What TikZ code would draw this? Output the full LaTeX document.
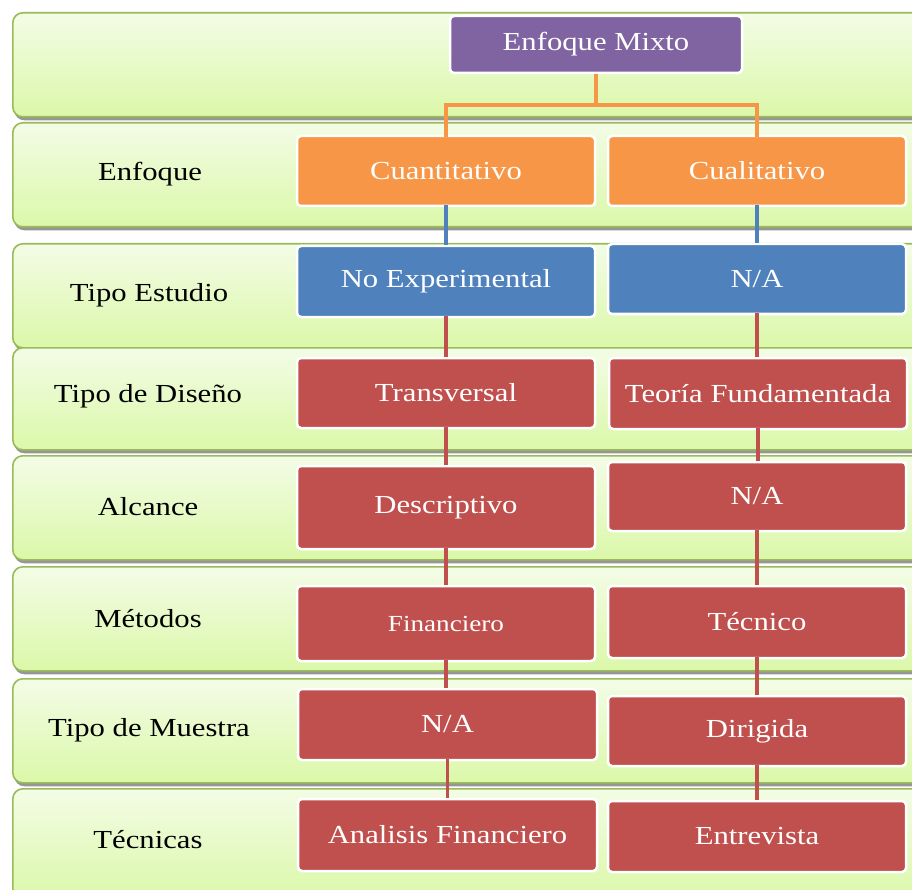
\documentclass[tikz,border=0pt]{standalone}
\usepackage{fontspec}
\setmainfont{Liberation Serif}[FakeStretch=1.18]
\usetikzlibrary{shadows}
\definecolor{bandline}{HTML}{9BBB59}
\definecolor{bandtop}{HTML}{F3FCE6}
\definecolor{bandbot}{HTML}{DBF8A9}
\definecolor{cpurple}{HTML}{8064A2}
\definecolor{corange}{HTML}{F79646}
\definecolor{cblue}{HTML}{4F81BD}
\definecolor{cred}{HTML}{C0504D}
\tikzset{
  band/.style={draw=bandline, line width=1.6pt, rounded corners=10pt,
    top color=bandtop, bottom color=bandbot, anchor=north west,
    minimum width=940pt, inner sep=0pt,
    drop shadow={shadow xshift=1.5pt, shadow yshift=-3.5pt, fill=black!55, opacity=0.75}},
  lbl/.style={font=\fontsize{26}{30}\selectfont, text=black},
  box/.style={draw=white, line width=2.5pt, rounded corners=4pt, text=white,
    font=\fontsize{26}{30}\selectfont, inner sep=0pt},
  conn/.style={line width=3.5pt},
}
\begin{document}
\begin{tikzpicture}[x=1pt, y=-1pt]
\useasboundingbox (0,0) rectangle (912,890);
\clip (0,0) rectangle (912,890);
% bands
\node[band, minimum height=104pt] (b1) at (12,12) {};
\node[band, minimum height=104pt] (b2) at (12,122) {};
\node[band, minimum height=104pt] (b3) at (12,243) {};
\node[band, minimum height=102pt] (b4) at (12,347) {};
\node[band, minimum height=104pt] (b5) at (12,455) {};
\node[band, minimum height=104pt] (b6) at (12,566) {};
\node[band, minimum height=104pt] (b7) at (12,678) {};
\node[band, minimum height=110pt] (b8) at (12,788) {};
% row labels
\node[lbl] (l2) at (150,174) {Enfoque};
\node[lbl] (l3) at (149,295) {Tipo Estudio};
\node[lbl] (l4) at (148,396) {Tipo de Diseño};
\node[lbl] (l5) at (148,507) {Alcance};
\node[lbl] (l6) at (148,619) {Métodos};
\node[lbl] (l7) at (149,730) {Tipo de Muestra};
\node[lbl] (l8) at (148,840) {Técnicas};
% boxes
\node[box, fill=cpurple, minimum width=292pt, minimum height=57pt] (mixto) at (596,44.5) {Enfoque Mixto};
\node[box, fill=corange, minimum width=298pt, minimum height=70pt] (cuanti) at (446,171) {Cuantitativo};
\node[box, fill=corange, minimum width=298pt, minimum height=70pt] (cuali) at (757,171) {Cualitativo};
\node[box, fill=cblue, minimum width=298pt, minimum height=71pt] (noexp) at (446,281.5) {No Experimental};
\node[box, fill=cblue, minimum width=298pt, minimum height=70pt] (na1) at (757,279) {N/A};
\node[box, fill=cred, minimum width=298pt, minimum height=70pt] (transv) at (446,393) {Transversal};
\node[box, fill=cred, minimum width=298pt, minimum height=71pt] (teoria) at (758,393.5) {Teoría Fundamentada};
\node[box, fill=cred, minimum width=298pt, minimum height=83pt] (descr) at (446,507.5) {Descriptivo};
\node[box, fill=cred, minimum width=298pt, minimum height=69pt] (na2) at (757,496.5) {N/A};
\node[box, fill=cred, minimum width=298pt, minimum height=75pt, font=\fontsize{23}{27}\selectfont] (financ) at (446,623.5) {Financiero};
\node[box, fill=cred, minimum width=298pt, minimum height=72pt] (tecnico) at (757,622) {Técnico};
\node[box, fill=cred, minimum width=299pt, minimum height=71pt] (na3) at (447.5,724.5) {N/A};
\node[box, fill=cred, minimum width=298pt, minimum height=70pt] (dirig) at (757,731) {Dirigida};
\node[box, fill=cred, minimum width=299pt, minimum height=72pt] (analis) at (447.5,835) {Analisis Financiero};
\node[box, fill=cred, minimum width=298pt, minimum height=71pt] (entrev) at (757,836.5) {Entrevista};
% connectors
\coordinate (split) at (596,105);
\draw[conn, corange] (mixto.south) -- (split);
\draw[conn, corange] (split) -- (split -| cuanti.north) -- ([yshift=-2pt]cuanti.north);
\draw[conn, corange] (split) -- (split -| cuali.north) -- ([yshift=-2pt]cuali.north);
\draw[conn, cblue] ([yshift=2pt]cuanti.south) -- (cuanti.south |- noexp.north);
\draw[conn, cblue] ([yshift=2pt]cuali.south) -- (cuali.south |- na1.north);
\draw[conn, cred] ([yshift=2pt]noexp.south) -- (noexp.south |- transv.north);
\draw[conn, cred] ([yshift=2pt]na1.south) -- (na1.south |- teoria.north);
\draw[conn, cred] ([yshift=2pt]transv.south) -- (transv.south |- descr.north);
\draw[conn, cred] ([yshift=2pt]teoria.south) -- (teoria.south |- na2.north);
\draw[conn, cred] ([yshift=2pt]descr.south) -- (descr.south |- financ.north);
\draw[conn, cred] ([yshift=2pt]na2.south) -- (na2.south |- tecnico.north);
\draw[conn, cred] ([yshift=2pt]financ.south) -- (financ.south |- na3.north);
\draw[conn, cred] ([yshift=2pt]tecnico.south) -- (tecnico.south |- dirig.north);
\draw[conn, cred] ([yshift=2pt]na3.south) -- (na3.south |- analis.north);
\draw[conn, cred] ([yshift=2pt]dirig.south) -- (dirig.south |- entrev.north);
\end{tikzpicture}
\end{document}
